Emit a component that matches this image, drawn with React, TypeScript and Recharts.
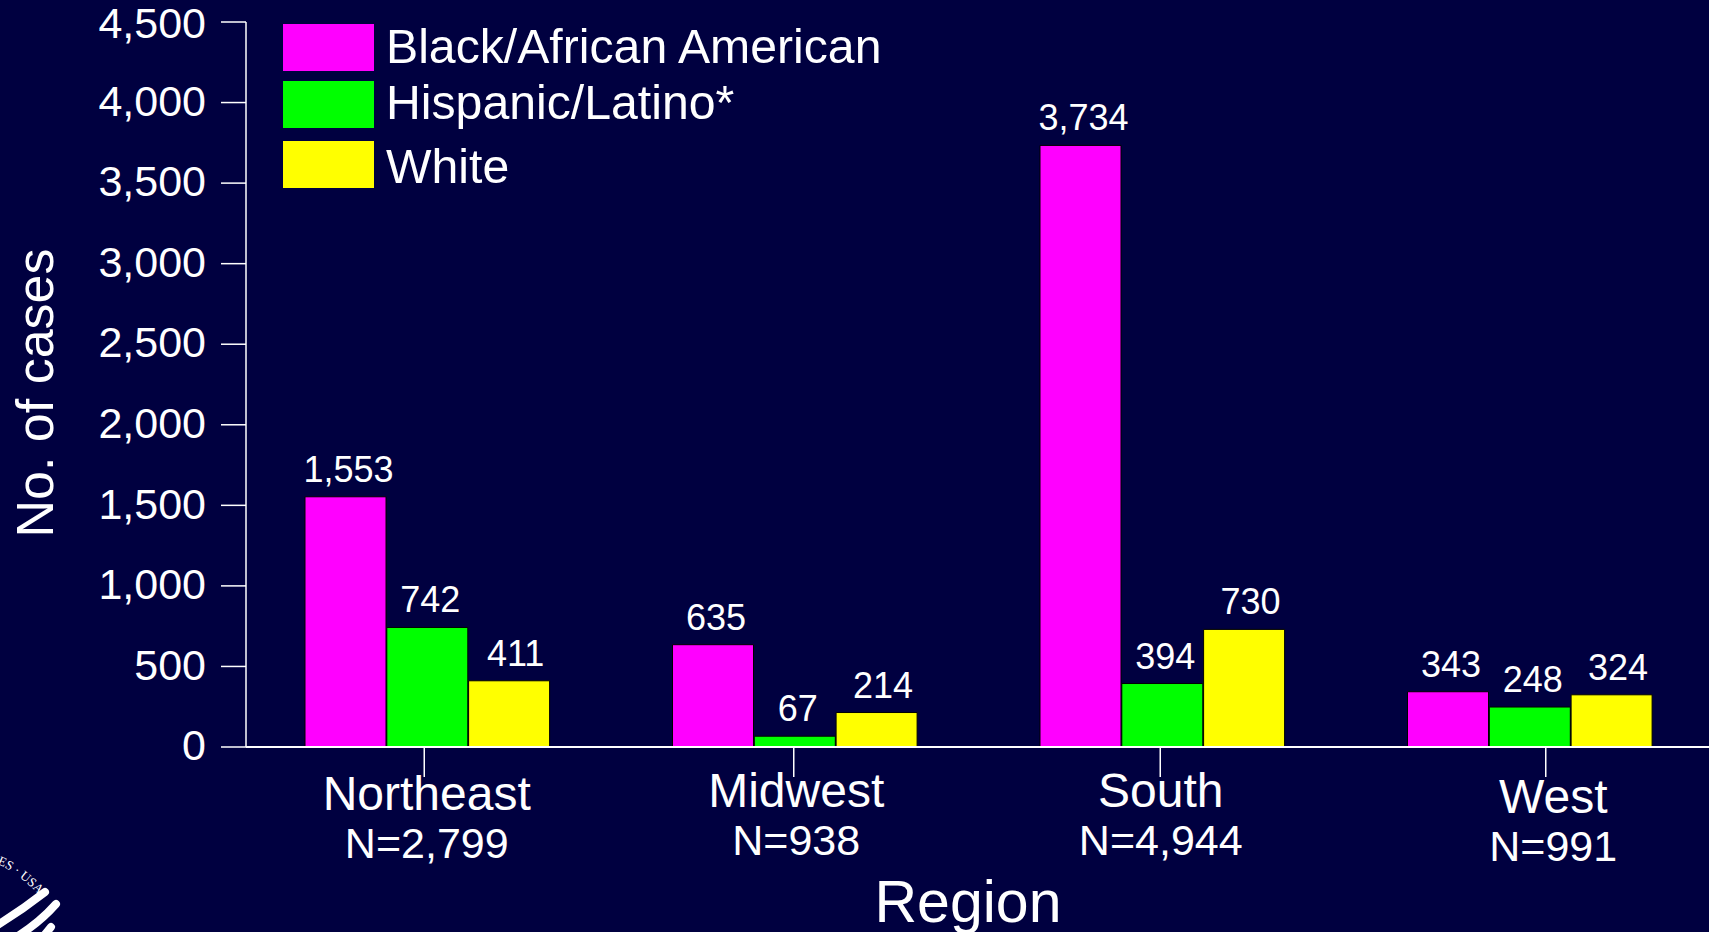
import { BarChart, Bar, XAxis, YAxis, LabelList, Legend } from "recharts";

const regions = ["Northeast", "Midwest", "South", "West"];
const totals = ["N=2,799", "N=938", "N=4,944", "N=991"];
const black = [1553, 635, 3734, 343];
const hispanic = [742, 67, 394, 248];
const white = [411, 214, 730, 324];
const yTicks = [0, 500, 1000, 1500, 2000, 2500, 3000, 3500, 4000, 4500];

const data = regions.map((region, i) => ({
  region,
  total: totals[i],
  black: black[i],
  hispanic: hispanic[i],
  white: white[i],
}));

const BG = "#000040";
const FONT = "'Liberation Sans', Arial, sans-serif";

// the source slide has hand placed category ticks and labels
const TICK_SHIFT = [-3.5, -1.5, -2.5, 15.5];
const LABEL_SHIFT = [-1, 1, -2, 23];
const LABEL_DROP = [0, -3, -3, 3];

const fmt = (v: number) => v.toLocaleString("en-US");

function RegionTick({ x, y, index, payload }: any) {
  const row = data[index];
  const lx = x + LABEL_SHIFT[index];
  const drop = LABEL_DROP[index];
  return (
    <g fontFamily={FONT} fill="#fff" textAnchor="middle">
      <line
        x1={x + TICK_SHIFT[index]}
        x2={x + TICK_SHIFT[index]}
        y1={y - 8}
        y2={y + 22}
        stroke="#fff"
        strokeWidth={1.5}
      />
      <text x={lx} y={y + 55 + drop} fontSize={48}>
        {payload.value}
      </text>
      <text x={lx} y={y + 103 + drop} fontSize={43}>
        {row.total}
      </text>
    </g>
  );
}

function LegendBox({ payload }: any) {
  const tops = [0, 57, 117];
  const textShift = [-2, -3, 1];
  return (
    <div style={{ position: "relative", fontFamily: FONT }}>
      {payload.map((p: any, i: number) => (
        <div
          key={p.value}
          style={{
            position: "absolute",
            top: tops[i],
            left: 0,
            display: "flex",
            alignItems: "center",
            whiteSpace: "nowrap",
            color: "#fff",
            fontSize: 48.2,
            height: 47,
          }}
        >
          <span
            style={{
              display: "inline-block",
              width: 91,
              height: 47,
              background: p.color,
              marginRight: 12,
            }}
          />
          <span style={{ position: "relative", top: textShift[i] }}>{p.value}</span>
        </div>
      ))}
    </div>
  );
}

function Seal() {
  return (
    <svg
      width={80}
      height={82}
      viewBox="0 0 80 82"
      style={{ position: "absolute", left: 0, top: 850 }}
    >
      <defs>
        <path id="sealArc" d="M -3 14 Q 18 22 44 50" />
      </defs>
      <text fontFamily="'Liberation Serif', serif" fontSize={13} fill="#fff">
        <textPath href="#sealArc">ES · USA</textPath>
      </text>
      <g stroke="#fff" strokeWidth={8} fill="none" strokeLinecap="round">
        <path d="M -4 76 Q 22 60 45 42" />
        <path d="M 18 86 Q 40 72 56 54" />
        <path d="M 42 88 Q 47 82 51 77" />
      </g>
    </svg>
  );
}

export default function App() {
  return (
    <div
      style={{
        position: "absolute",
        left: 0,
        top: 0,
        width: 1709,
        height: 932,
        background: BG,
        overflow: "hidden",
      }}
    >
      <BarChart
        width={1709}
        height={932}
        data={data}
        margin={{ top: 22, right: -7, bottom: 0, left: 0 }}
        barSize={81}
        barGap={0.8}
      >
        <XAxis
          dataKey="region"
          axisLine={{ stroke: "#fff", strokeWidth: 2 }}
          tickLine={false}
          tick={<RegionTick />}
          interval={0}
          height={185}
          padding={{ left: -2, right: 2 }}
        />
        <YAxis
          domain={[0, 4500]}
          ticks={yTicks}
          tickFormatter={fmt}
          axisLine={{ stroke: "#fff", strokeWidth: 1.5 }}
          tickLine={{ stroke: "#fff", strokeWidth: 1.5 }}
          tickSize={25}
          tickMargin={15}
          width={246}
          tick={{ fill: "#fff", fontSize: 43, fontFamily: FONT, dy: -2 }}
        />
        <Legend content={<LegendBox />} wrapperStyle={{ left: 283, top: 24, width: 600, bottom: "auto" }} />
        <Bar dataKey="black" name="Black/African American" fill="#ff00ff" stroke="#000" strokeWidth={1} isAnimationActive={false}>
          <LabelList dataKey="black" position="top" offset={15} dx={3} formatter={fmt} fill="#fff" fontSize={36} fontFamily={FONT} />
        </Bar>
        <Bar dataKey="hispanic" name="Hispanic/Latino*" fill="#00ff00" stroke="#000" strokeWidth={1} isAnimationActive={false}>
          <LabelList dataKey="hispanic" position="top" offset={15} dx={3} formatter={fmt} fill="#fff" fontSize={36} fontFamily={FONT} />
        </Bar>
        <Bar dataKey="white" name="White" fill="#ffff00" stroke="#000" strokeWidth={1} isAnimationActive={false}>
          <LabelList dataKey="white" position="top" offset={15} dx={6.5} formatter={fmt} fill="#fff" fontSize={36} fontFamily={FONT} />
        </Bar>
        <text x={968} y={922} textAnchor="middle" fill="#fff" fontSize={59} fontFamily={FONT}>
          Region
        </text>
        <text
          transform="translate(53 393) rotate(-90)"
          textAnchor="middle"
          fill="#fff"
          fontSize={52}
          fontFamily={FONT}
        >
          No. of cases
        </text>
      </BarChart>
      <Seal />
    </div>
  );
}
